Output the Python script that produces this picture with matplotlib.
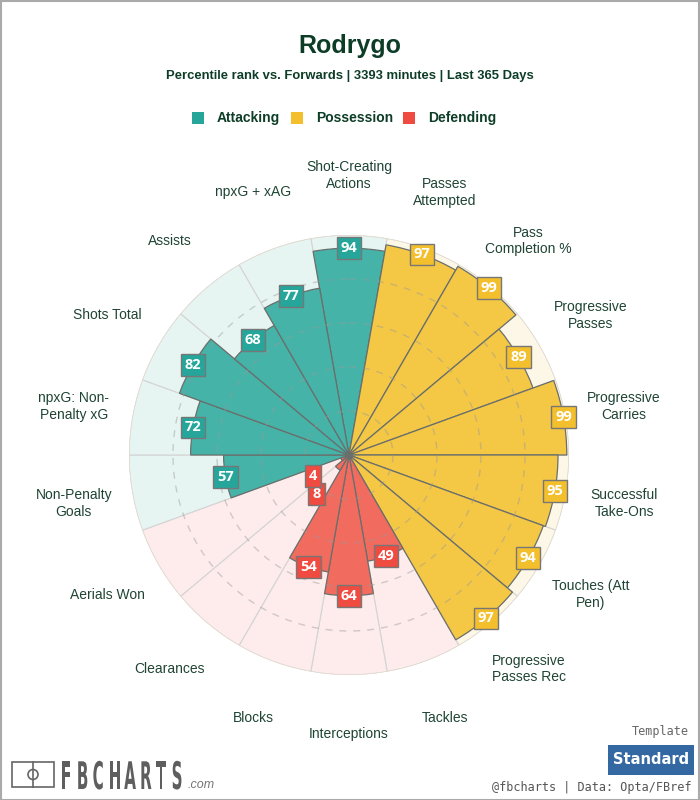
import numpy as np
import matplotlib
matplotlib.use("Agg")
import matplotlib.pyplot as plt
from matplotlib.patches import Rectangle, Circle, PathPatch
from matplotlib.textpath import TextPath
from matplotlib.font_manager import FontProperties
from matplotlib.transforms import Affine2D

# metrics clockwise from the top
labels = ["Shot-Creating\nActions", "Passes\nAttempted", "Pass\nCompletion %",
          "Progressive\nPasses", "Progressive\nCarries", "Successful\nTake-Ons",
          "Touches (Att\nPen)", "Progressive\nPasses Rec", "Tackles",
          "Interceptions", "Blocks", "Clearances", "Aerials Won",
          "Non-Penalty\nGoals", "npxG: Non-\nPenalty xG", "Shots Total",
          "Assists", "npxG + xAG"]
values = [94, 97, 99, 89, 99, 95, 94, 97, 49, 64, 54, 8, 4, 57, 72, 82, 68, 77]
groups = ["Attacking", "Possession", "Possession", "Possession", "Possession",
          "Possession", "Possession", "Possession", "Defending", "Defending",
          "Defending", "Defending", "Defending", "Attacking", "Attacking",
          "Attacking", "Attacking", "Attacking"]
group_names = ["Attacking", "Possession", "Defending"]

bar_col = {"Attacking": "#45b3a8", "Possession": "#f4c744", "Defending": "#f26b5f"}
box_col = {"Attacking": "#26a69a", "Possession": "#f3bf2c", "Defending": "#ef4b40"}
bg_col = {"Attacking": "#e7f5f2", "Possession": "#fdf7e8", "Defending": "#fdeceb"}
txt_col = "#0d3d26"

fig = plt.figure(figsize=(7, 8), dpi=100)
fig.patch.set_facecolor("white")

# overlay in pixel units for the logo
ov = fig.add_axes([0, 0, 1, 1])
ov.set_xlim(0, 700)
ov.set_ylim(0, 800)
ov.axis("off")

# polar axes: centre at (349, 455) px, radius 220 px
ax = fig.add_axes([129 / 700, 125 / 800, 440 / 700, 440 / 800], projection="polar")
ax.set_theta_zero_location("N")
ax.set_theta_direction(-1)
ax.set_ylim(0, 100)
ax.axis("off")

n = len(values)
theta = np.deg2rad(np.arange(n) * 360 / n)
width = 2 * np.pi / n

ax.bar(theta, [100] * n, width=width, color=[bg_col[g] for g in groups],
       edgecolor="#d4d4d4", linewidth=0.8, zorder=1)
ax.bar(theta, values, width=width, color=[bar_col[g] for g in groups],
       edgecolor="#6a6f6c", linewidth=0.9, zorder=2)

# outer ring and dashed grid circles
t = np.linspace(0, 2 * np.pi, 400)
ax.plot(t, [100] * len(t), color="#e4dcd0", lw=1.0, zorder=3)
for r in [20, 40, 60, 80]:
    ax.plot(t, [r] * len(t), color="#9a9a9a", lw=1.0, ls=(0, (5, 5)),
            alpha=0.45, zorder=3)

for th, v, g in zip(theta, values, groups):
    r_lab = v + 15 if v < 20 else v
    ax.text(th, r_lab, str(v), ha="center", va="center", color="white",
            fontsize=10.5, fontweight="bold", family="Open Sans", zorder=5,
            bbox=dict(boxstyle="square,pad=0.27", fc=box_col[g], ec="#777777", lw=1))

for th, lab in zip(theta, labels):
    ax.text(th, 127, lab, ha="center", va="center", color="#1f4434",
            fontsize=10, family="Liberation Sans", linespacing=1.25, clip_on=False)

# titles
fig.text(0.5, 1 - 46 / 800, "Rodrygo", ha="center", va="center", fontsize=18,
         fontweight="bold", color=txt_col, family="Liberation Sans")
fig.text(0.5, 1 - 76 / 800, "Percentile rank vs. Forwards | 3393 minutes | Last 365 Days",
         ha="center", va="center", fontsize=9.4, fontweight="bold", color=txt_col,
         family="Liberation Sans")

# legend
leg_x = [192, 291, 403]
for x0, g in zip(leg_x, group_names):
    fig.add_artist(Rectangle((x0 / 700, 1 - 124 / 800), 12 / 700, 12 / 800,
                             transform=fig.transFigure, fc=box_col[g], ec="none"))
    fig.text((x0 + 25) / 700, 1 - 118 / 800, g, ha="left", va="center", fontsize=10,
             fontweight="bold", color=txt_col, family="Liberation Sans")

# logo
ov.add_patch(Rectangle((12, 13), 42, 25, fc="none", ec="#666666", lw=1.2))
ov.plot([33, 33], [13, 38], color="#666666", lw=1.2)
ov.add_patch(Circle((33, 25.5), 5, fc="none", ec="#666666", lw=1.2))
fp = FontProperties(family="DejaVu Sans", weight="bold")
for i, ch in enumerate("FBCHARTS"):
    tp = TextPath((0, 0), ch, size=38, prop=fp)
    tr = Affine2D().scale(0.4, 1).translate(61 + i * 15.8, 11) + ov.transData
    ov.add_patch(PathPatch(tp, transform=tr, fc="#5e5e5e", ec="none"))
fig.text(188 / 700, 1 - 785 / 800, ".com", ha="left", va="center", fontsize=9,
         style="italic", color="#777777", family="Liberation Sans")

# template badge and credits
fig.text(689 / 700, 1 - 732 / 800, "Template", ha="right", va="center", fontsize=8.5,
         color="#666666", family="DejaVu Sans Mono")
fig.add_artist(Rectangle((608 / 700, 1 - 775 / 800), 86 / 700, 30 / 800,
                         transform=fig.transFigure, fc="#3468a3", ec="none"))
fig.text(651 / 700, 1 - 760 / 800, "Standard", ha="center", va="center", fontsize=10.5,
         fontweight="bold", color="white", family="DejaVu Sans")
fig.text(691 / 700, 1 - 787 / 800, "@fbcharts | Data: Opta/FBref", ha="right",
         va="center", fontsize=8.5, color="#555555", family="DejaVu Sans Mono")

# frame
fig.add_artist(Rectangle((0.5 / 700, 0.5 / 800), 698.5 / 700, 798.5 / 800,
                         transform=fig.transFigure, fc="none", ec="#aaaaaa", lw=1.5))

fig.savefig("out.png", dpi=100)
